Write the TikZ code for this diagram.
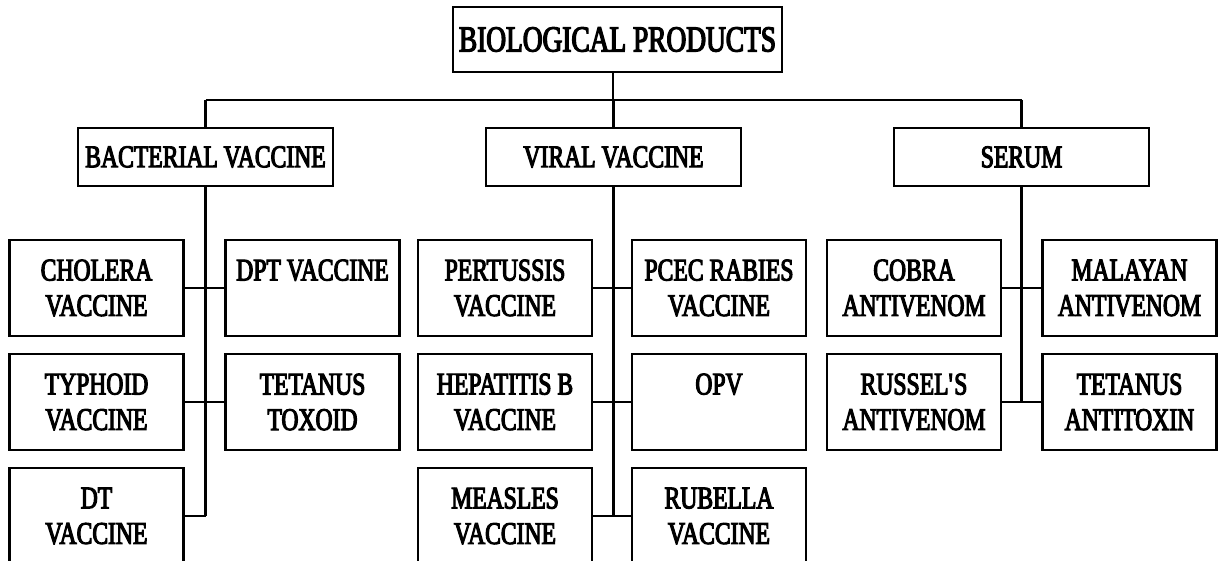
\documentclass[tikz,border=0pt]{standalone}
\usepackage{fontspec}
\setmainfont[FakeStretch=0.75,FakeBold=3.5]{Liberation Serif}
\begin{document}
\begin{tikzpicture}[x=1pt,y=-1pt,
  line width=2.2pt,
  box/.style={draw,rectangle,inner sep=0pt,align=center,
    font=\fontsize{31.5}{35.5}\selectfont},
  leaf/.style={box,minimum width=174pt,minimum height=96pt},
  mid/.style={box,minimum width=255pt,minimum height=58pt},
  topbox/.style={box,minimum width=329pt,minimum height=65pt,
    font=\fontsize{36.5}{40}\selectfont},
  link/.style={draw,line width=2.4pt}]
\useasboundingbox (0,0) rectangle (1219,561);
\begin{scope}
\clip (0,0) rectangle (1219,561);
% top
\node[topbox] (top) at (617.5,39.5) {BIOLOGICAL PRODUCTS};
% second level
\node[mid] (bact)  at (205.5,157) {BACTERIAL VACCINE};
\node[mid] (viral) at (613.5,157) {VIRAL VACCINE};
\node[mid] (serum) at (1021.5,157) {SERUM};
% bacterial
\node[leaf] (b1) at (96.5,288) {CHOLERA\\VACCINE};
\node[leaf] (b2) at (312.5,288) {DPT VACCINE\\\phantom{V}};
\node[leaf] (b3) at (96.5,402) {TYPHOID\\VACCINE};
\node[leaf] (b4) at (312.5,402) {TETANUS\\TOXOID};
\node[leaf] (b5) at (96.5,516) {DT\\VACCINE};
% viral
\node[leaf] (v1) at (505,288) {PERTUSSIS\\VACCINE};
\node[leaf] (v2) at (719,288) {PCEC RABIES\\VACCINE};
\node[leaf] (v3) at (505,402) {HEPATITIS B\\VACCINE};
\node[leaf] (v4) at (719,402) {OPV\\\phantom{V}};
\node[leaf] (v5) at (505,516) {MEASLES\\VACCINE};
\node[leaf] (v6) at (719,516) {RUBELLA\\VACCINE};
% serum
\node[leaf] (s1) at (914,288) {COBRA\\ANTIVENOM};
\node[leaf] (s2) at (1129.5,288) {MALAYAN\\ANTIVENOM};
\node[leaf] (s3) at (914,402) {RUSSEL\textquotesingle S\\ANTIVENOM};
\node[leaf] (s4) at (1129.5,402) {TETANUS\\ANTITOXIN};
% connectors
\coordinate (jT) at (613,100);
\draw[link] (jT |- top.south) -- (jT);
\draw[link] (bact.north |- jT) -- (serum.north |- jT);
\draw[link] (bact.north |- jT) -- (bact.north);
\draw[link] (viral.north |- jT) -- (viral.north);
\draw[link] (serum.north |- jT) -- (serum.north);
% bacterial trunk
\draw[link] (bact.south) -- (bact.south |- b5.east);
\draw[link] (b1.east) -- (b2.west);
\draw[link] (b3.east) -- (b4.west);
\draw[link] (b5.east) -- (bact.south |- b5.east);
% viral trunk
\draw[link] (viral.south) -- (viral.south |- v5.east);
\draw[link] (v1.east) -- (v2.west);
\draw[link] (v3.east) -- (v4.west);
\draw[link] (v5.east) -- (v6.west);
% serum trunk
\draw[link] (serum.south) -- (serum.south |- s3.east);
\draw[link] (s1.east) -- (s2.west);
\draw[link] (s3.east) -- (s4.west);
\end{scope}
\end{tikzpicture}
\end{document}
